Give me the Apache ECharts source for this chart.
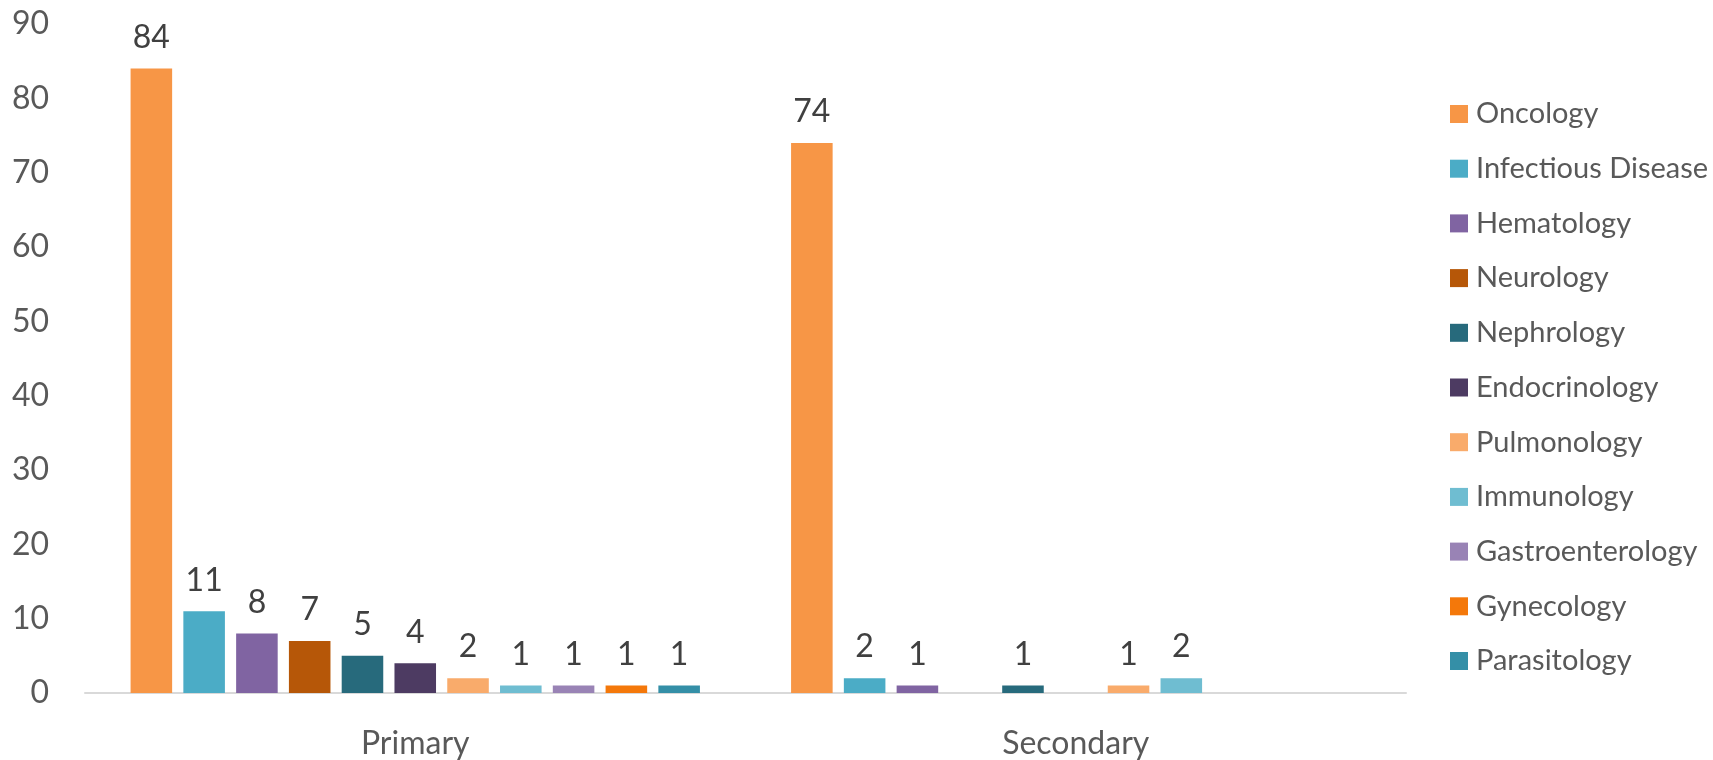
<!DOCTYPE html>
<html>
<head>
<meta charset="utf-8">
<script src="https://cdn.jsdelivr.net/npm/echarts@6/dist/echarts.min.js"></script>
<style>
  html, body { margin: 0; padding: 0; background: #fff; }
  #chart { width: 1713px; height: 760px; }
</style>
</head>
<body>
<div id="chart"></div>
<script>
// Studies by therapeutic area, split into primary and secondary areas
const categories = ['Primary', 'Secondary'];
const specialties = [
  'Oncology', 'Infectious Disease', 'Hematology', 'Neurology', 'Nephrology',
  'Endocrinology', 'Pulmonology', 'Immunology', 'Gastroenterology',
  'Gynecology', 'Parasitology'
];
// null = no studies in that group (no bar, no label)
const primaryCounts = [84, 11, 8, 7, 5, 4, 2, 1, 1, 1, 1];
const secondaryCounts = [74, 2, 1, null, 1, null, 1, 2, null, null, null];
const yTicks = { min: 0, max: 90, step: 10 };

const palette = [
  '#F79646', '#4BACC6', '#8064A2', '#B65708', '#276A7C', '#4D3B62',
  '#F9AB6B', '#6FBDD1', '#9983B5', '#F4780A', '#348FA7'
];

const FONT = 'Lato, "Open Sans", sans-serif';

const series = specialties.map((name, i) => ({
  name,
  type: 'bar',
  barGap: '27%',
  barCategoryGap: '13.8%',
  data: [primaryCounts[i], secondaryCounts[i]],
  itemStyle: { color: palette[i] },
  label: {
    show: true,
    position: 'top',
    distance: 15,
    color: '#404040',
    fontFamily: FONT,
    fontSize: 32
  }
}));

const chart = echarts.init(document.getElementById('chart'), null, { renderer: 'canvas' });
chart.setOption({
  animation: false,
  backgroundColor: '#ffffff',
  grid: { left: 85, right: 307, top: 24, bottom: 65, containLabel: false },
  legend: {
    orient: 'vertical',
    left: 1450,
    top: 99,
    padding: 0,
    itemWidth: 18,
    itemHeight: 18,
    itemGap: 24.7,
    icon: 'rect',
    data: specialties,
    textStyle: {
      color: '#595959',
      fontFamily: FONT,
      fontSize: 29,
      lineHeight: 30,
      padding: [0, 0, 0, 3]
    }
  },
  xAxis: {
    type: 'category',
    data: categories,
    axisTick: { show: false },
    axisLine: { lineStyle: { color: '#D9D9D9', width: 2 } },
    axisLabel: {
      color: '#595959',
      fontFamily: FONT,
      fontSize: 32,
      margin: 35
    }
  },
  yAxis: {
    type: 'value',
    min: yTicks.min,
    max: yTicks.max,
    interval: yTicks.step,
    splitLine: { show: false },
    axisLine: { show: false },
    axisTick: { show: false },
    axisLabel: {
      color: '#595959',
      fontFamily: FONT,
      fontSize: 32,
      margin: 36
    }
  },
  series
});
</script>
</body>
</html>
